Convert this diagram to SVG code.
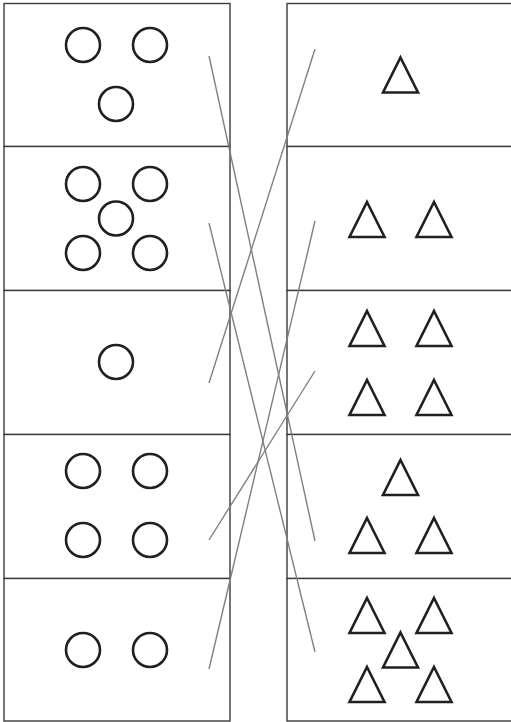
<svg xmlns="http://www.w3.org/2000/svg" width="511" height="722" viewBox="0 0 511 722">
<style>
.box{fill:#fff;stroke:#3a3a3a;stroke-width:1.4}
.c{fill:none;stroke:#231f20;stroke-width:2.6}
.t{fill:none;stroke:#231f20;stroke-width:2.6;stroke-linejoin:miter}
.ln{stroke:#808080;stroke-width:1.4;fill:none}
</style>
<defs>
<circle id="cir" r="17" class="c"/>
<path id="tri" d="M0,-17.5 L17.5,17.5 L-17.5,17.5 Z" class="t"/>
</defs>
<g id="left1"><rect class="box" x="4" y="3.5" width="226" height="143"/><use href="#cir" x="83" y="45"/><use href="#cir" x="150" y="45"/><use href="#cir" x="116" y="104"/></g>
<g id="left2"><rect class="box" x="4" y="146.5" width="226" height="144"/><use href="#cir" x="83" y="184"/><use href="#cir" x="150" y="184"/><use href="#cir" x="116" y="218.5"/><use href="#cir" x="83" y="253"/><use href="#cir" x="150" y="253"/></g>
<g id="left3"><rect class="box" x="4" y="290.5" width="226" height="144"/><use href="#cir" x="116" y="362"/></g>
<g id="left4"><rect class="box" x="4" y="434.5" width="226" height="144"/><use href="#cir" x="83" y="471"/><use href="#cir" x="150" y="471"/><use href="#cir" x="83" y="540"/><use href="#cir" x="150" y="540"/></g>
<g id="left5"><rect class="box" x="4" y="578.5" width="226" height="142.5"/><use href="#cir" x="83" y="650"/><use href="#cir" x="150" y="650"/></g>
<g id="right1"><rect class="box" x="287" y="3.5" width="230" height="143"/><use href="#tri" x="400.5" y="75"/></g>
<g id="right2"><rect class="box" x="287" y="146.5" width="230" height="144"/><use href="#tri" x="367" y="219.5"/><use href="#tri" x="434" y="219.5"/></g>
<g id="right3"><rect class="box" x="287" y="290.5" width="230" height="144"/><use href="#tri" x="367" y="328.5"/><use href="#tri" x="434" y="328.5"/><use href="#tri" x="367" y="397.5"/><use href="#tri" x="434" y="397.5"/></g>
<g id="right4"><rect class="box" x="287" y="434.5" width="230" height="144"/><use href="#tri" x="400.5" y="477.5"/><use href="#tri" x="367" y="535.5"/><use href="#tri" x="434" y="535.5"/></g>
<g id="right5"><rect class="box" x="287" y="578.5" width="230" height="142.5"/><use href="#tri" x="367" y="615.5"/><use href="#tri" x="434" y="615.5"/><use href="#tri" x="400.5" y="650"/><use href="#tri" x="367" y="684.5"/><use href="#tri" x="434" y="684.5"/></g>
<g id="connectors">
<line class="ln" x1="209" y1="56" x2="315" y2="541"/>
<line class="ln" x1="315" y1="49" x2="209" y2="383"/>
<line class="ln" x1="209" y1="223" x2="315" y2="652"/>
<line class="ln" x1="315" y1="221" x2="209" y2="669"/>
<line class="ln" x1="315" y1="371" x2="209" y2="540"/>
</g>
</svg>
